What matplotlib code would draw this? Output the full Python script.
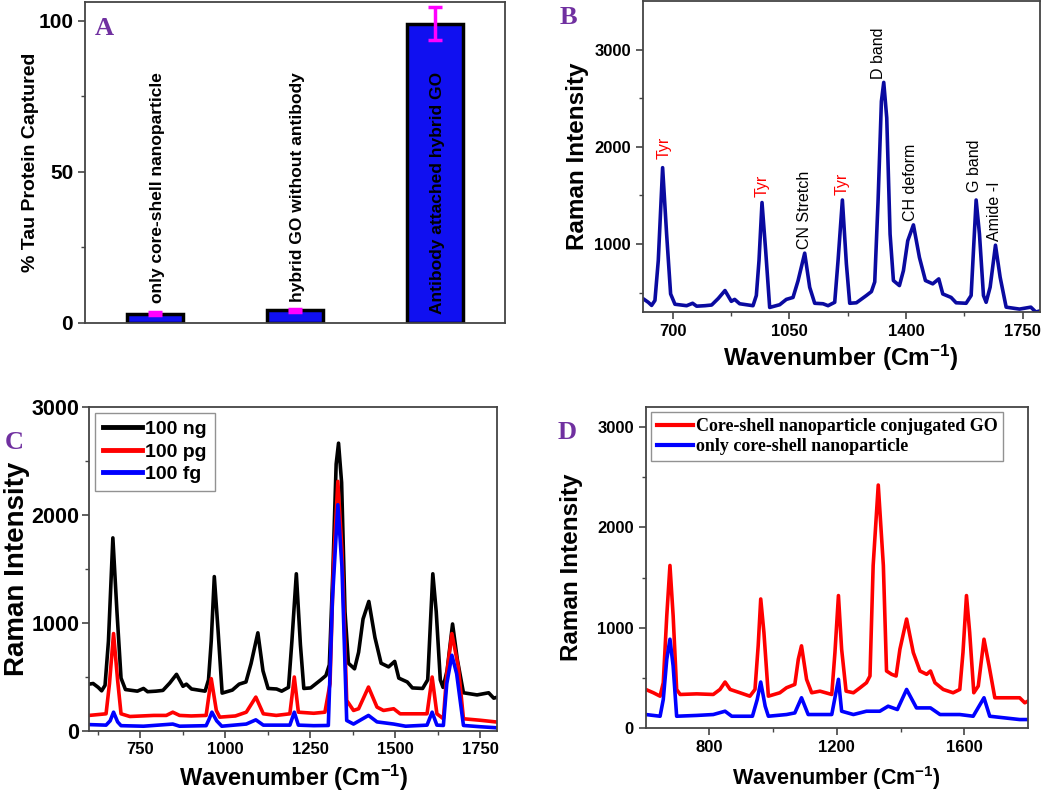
import numpy as np
import matplotlib
matplotlib.use('Agg')
import matplotlib.pyplot as plt

plt.rcParams['font.family'] = ['Liberation Sans', 'DejaVu Sans']
plt.rcParams['font.weight'] = 'bold'
plt.rcParams['mathtext.fontset'] = 'custom'
plt.rcParams['mathtext.rm'] = 'Liberation Sans:bold'
plt.rcParams['mathtext.default'] = 'rm'

# panel A
categories = ['only core-shell nanoparticle', 'hybrid GO without antibody', 'Antibody attached hybrid GO']
captured = [3.0, 4.2, 99.0]
captured_err = [0.5, 0.5, 5.5]

# 100 ng spectrum (panel B and black curve of C)
ng_wn = [600, 612, 627, 637, 647, 657, 670, 682, 694, 707, 742, 760, 772, 797, 817, 837, 857, 876, 886,
         901, 941, 951, 959, 968, 979, 991, 1021, 1041, 1061, 1076, 1096, 1111, 1126, 1151, 1166, 1186,
         1196, 1209, 1221, 1231, 1251, 1281, 1296, 1306, 1316, 1326, 1333, 1342, 1352, 1362, 1380, 1392,
         1405, 1422, 1440, 1458, 1480, 1498, 1510, 1535, 1550, 1580, 1595, 1602, 1610, 1620, 1632, 1640,
         1652, 1668, 1682, 1700, 1740, 1774, 1789, 1800]
ng_int = [430, 436, 400, 368, 419, 829, 1786, 1102, 486, 380, 365, 390, 360, 365, 372, 440, 521, 410, 430,
          385, 365, 470, 829, 1427, 931, 347, 375, 430, 450, 621, 906, 554, 390, 385, 365, 400,
          829, 1453, 795, 390, 395, 470, 510, 610, 1444, 2470, 2664, 2299, 1102, 624, 572, 726,
          1034, 1197, 862, 624, 590, 641, 486, 450, 395, 390, 470, 931, 1453, 1102, 470, 400,
          556, 988, 658, 350, 330, 350, 300, 310]

# 100 pg
pg_wn = [600, 650, 660, 672, 684, 694, 720, 790, 827, 846, 866, 900, 944, 959, 974, 984, 1030, 1062, 1090,
         1112, 1150, 1190, 1203, 1215, 1260, 1293, 1308, 1318, 1331, 1343, 1357, 1377, 1392, 1421, 1446,
         1465, 1495, 1514, 1593, 1608, 1622, 1641, 1651, 1666, 1685, 1700, 1750, 1800]
pg_int = [140, 155, 434, 899, 465, 155, 130, 140, 140, 170, 140, 135, 140, 481, 186, 124, 135, 170, 310,
          155, 140, 155, 496, 170, 160, 170, 434, 1519, 2310, 1674, 279, 186, 202, 403, 217,
          186, 202, 155, 155, 496, 155, 109, 527, 899, 589, 109, 95, 78]

# 100 fg
fg_wn = [600, 650, 662, 672, 684, 694, 760, 846, 866, 944, 952, 961, 975, 990, 1062, 1090, 1112, 1190,
         1203, 1215, 1260, 1303, 1315, 1331, 1343, 1357, 1377, 1421, 1446, 1495, 1530, 1593, 1608, 1622,
         1641, 1651, 1666, 1680, 1700, 1750, 1800]
fg_int = [55, 50, 90, 170, 80, 45, 40, 60, 40, 45, 100, 170, 90, 40, 60, 99, 50, 50,
          170, 50, 45, 47, 1210, 2093, 1519, 93, 60, 140, 80, 60, 40, 50, 170, 50,
          47, 434, 698, 527, 47, 35, 25]

# panel D
go_wn = [600, 624, 645, 655, 666, 676, 686, 697, 708, 760, 812, 833, 849, 865, 896, 927, 943, 953, 961,
         971, 985, 1021, 1042, 1068, 1079, 1089, 1105, 1121, 1147, 1184, 1194, 1205, 1215, 1229, 1252,
         1273, 1293, 1304, 1314, 1330, 1346, 1356, 1372, 1386, 1398, 1419, 1440, 1461, 1482, 1494, 1508,
         1534, 1565, 1586, 1596, 1607, 1617, 1630, 1644, 1662, 1678, 1696, 1774, 1790, 1800]
go_int = [384, 351, 317, 451, 1119, 1620, 1119, 384, 334, 340, 334, 384, 458, 384, 351, 317, 384, 819, 1286,
          953, 317, 351, 401, 434, 685, 819, 484, 351, 367, 334, 752, 1320, 785, 367, 351,
          401, 451, 518, 1620, 2422, 1620, 568, 535, 518, 785, 1086, 752, 568, 535, 568, 451,
          384, 351, 384, 752, 1320, 953, 351, 418, 885, 618, 301, 301, 251, 268]

cs_wn = [600, 645, 655, 666, 676, 686, 697, 760, 812, 849, 870, 935, 950, 961, 975, 985, 1042, 1068, 1089,
         1110, 1184, 1205, 1215, 1252, 1293, 1335, 1361, 1390, 1419, 1450, 1494, 1524, 1586, 1628, 1662,
         1680, 1774, 1800]
cs_int = [134, 117, 284, 685, 885, 618, 117, 125, 134, 167, 117, 117, 284, 458, 217, 117, 134, 150, 301,
          134, 134, 485, 167, 134, 167, 167, 217, 184, 384, 200, 200, 134, 134, 117, 301,
          117, 84, 84]

# band labels for B
band_text = ['Tyr', 'Tyr', 'CN Stretch', 'Tyr', 'D band', 'CH deform', 'G band', 'Amide -I']
band_pos = [674, 968, 1096, 1208, 1318, 1412, 1604, 1664]
band_y = [1880, 1480, 950, 1500, 2700, 1240, 1540, 1030]
band_col = ['red', 'red', 'black', 'red', 'black', 'black', 'black', 'black']

fig = plt.figure(figsize=(10.5, 7.99), dpi=100)
axA = fig.add_axes([0.081, 0.596, 0.400, 0.401])
axB = fig.add_axes([0.612, 0.6095, 0.378, 0.389])
axC = fig.add_axes([0.0848, 0.0857, 0.389, 0.405])
axD = fig.add_axes([0.615, 0.0889, 0.364, 0.4017])

purple = '#7030A0'
for ax in (axA, axB, axC, axD):
    for s in ax.spines.values():
        s.set_color('#444444')
        s.set_linewidth(1.3)
    ax.tick_params(direction='out', length=5, width=1.2, labelsize=12, color='#444444')
    ax.tick_params(which='minor', direction='out', length=3, width=1.0, color='#444444')
axA.tick_params(axis='y', labelsize=15)
axC.tick_params(axis='y', labelsize=15.5, pad=2)

# A
axA.bar(categories, captured, width=0.4, color='#1010F0', edgecolor='black', linewidth=2.5)
axA.errorbar(categories, captured, yerr=captured_err, fmt='none', ecolor='#FF00FF',
             elinewidth=2.5, capsize=5, capthick=2.5)
axA.set_xlim(-0.5, 2.5)
axA.set_ylim(0, 106)
axA.set_xticks([])
axA.set_yticks([0, 50, 100])
axA.set_yticks([25, 75], minor=True)
for i, c in enumerate(categories):
    axA.text(i + 0.02, 83, c, rotation=90, ha='center', va='top', fontsize=12.5, fontweight='bold')
axA.set_ylabel('% Tau Protein Captured', fontsize=14, fontweight='bold')
axA.yaxis.set_label_coords(-0.11, 0.5)
axA.text(0.022, 0.955, 'A', transform=axA.transAxes, fontsize=19, fontweight='bold',
         family='Liberation Serif', color=purple, va='top')

# B
axB.plot(ng_wn, ng_int, color='#0A0AA0', lw=2.6)
axB.set_xlim(610, 1800)
axB.set_ylim(300, 3500)
axB.set_xticks([700, 1050, 1400, 1750])
axB.set_xticks([875, 1225, 1575], minor=True)
axB.set_yticks([1000, 2000, 3000])
axB.set_yticks([500, 1500, 2500], minor=True)
for t, p, yv, c in zip(band_text, band_pos, band_y, band_col):
    axB.text(p, yv, t, rotation=90, ha='center', va='bottom', fontsize=11.5,
             fontweight='normal', color=c)
axB.set_xlabel('Wavenumber (Cm$^{-1}$)', fontsize=17.5, fontweight='bold', labelpad=3)
axB.set_ylabel('Raman Intensity', fontsize=17.5, fontweight='bold', labelpad=4)
fig.text(0.533, 0.992, 'B', fontsize=19, fontweight='bold', family='Liberation Serif',
         color=purple, va='top')

# C
axC.plot(ng_wn, ng_int, color='black', lw=2.6, label='100 ng')
axC.plot(pg_wn, pg_int, color='red', lw=2.6, label='100 pg')
axC.plot(fg_wn, fg_int, color='blue', lw=2.6, label='100 fg')
axC.set_xlim(600, 1800)
axC.set_ylim(0, 3000)
axC.set_xticks([750, 1000, 1250, 1500, 1750])
axC.set_xticks([625, 875, 1125, 1375, 1625], minor=True)
axC.set_yticks([0, 1000, 2000, 3000])
axC.set_yticks([500, 1500, 2500], minor=True)
legC = axC.legend(loc='upper left', handlelength=2.0, frameon=True, fancybox=False,
                  edgecolor='#777777', borderaxespad=0.3, labelspacing=0.25, handletextpad=0.2,
                  prop={'weight': 'bold', 'size': 14})
for l in legC.get_lines():
    l.set_linewidth(3.5)
axC.set_xlabel('Wavenumber (Cm$^{-1}$)', fontsize=17, fontweight='bold', labelpad=4)
axC.set_ylabel('Raman Intensity', fontsize=20, fontweight='bold', labelpad=1)
fig.text(0.005, 0.46, 'C', fontsize=19, fontweight='bold', family='Liberation Serif',
         color=purple, va='top')

# D
axD.plot(go_wn, go_int, color='red', lw=2.6, label='Core-shell nanoparticle conjugated GO')
axD.plot(cs_wn, cs_int, color='blue', lw=2.6, label='only core-shell nanoparticle')
axD.set_xlim(600, 1800)
axD.set_ylim(0, 3200)
axD.set_xticks([800, 1200, 1600])
axD.set_xticks([1000, 1400], minor=True)
axD.set_yticks([0, 1000, 2000, 3000])
axD.set_yticks([500, 1500, 2500], minor=True)
legD = axD.legend(loc='upper left', handlelength=2.0, frameon=True, fancybox=False,
                  edgecolor='#777777', borderaxespad=0.3, labelspacing=0.2, handletextpad=0.2,
                  borderpad=0.3, prop={'family': 'Liberation Serif', 'weight': 'bold', 'size': 13})
for l in legD.get_lines():
    l.set_linewidth(3.0)
axD.set_xlabel('Wavenumber (Cm$^{-1}$)', fontsize=15.5, fontweight='bold', labelpad=7)
axD.set_ylabel('Raman Intensity', fontsize=17.5, fontweight='bold', labelpad=10)
fig.text(0.531, 0.473, 'D', fontsize=19, fontweight='bold', family='Liberation Serif',
         color=purple, va='top')

fig.savefig('out.png', dpi=100)
